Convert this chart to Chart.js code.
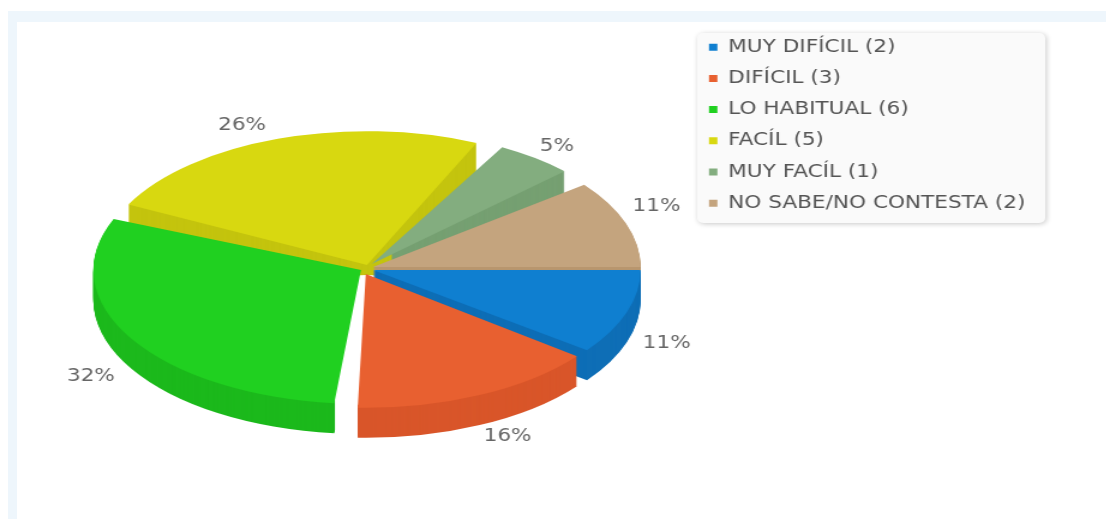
<!DOCTYPE html>
<html>
<head>
<meta charset="utf-8">
<script src="https://cdn.jsdelivr.net/npm/chart.js@4"></script>
<style>
    html, body { margin: 0; width: 1106px; height: 519px; overflow: hidden; background: #fff; }
    #frame { position: absolute; left: 8px; top: 11px; right: 0; bottom: 0; background: #eef6fc; }
    #panel { position: absolute; left: 17px; top: 22px; right: 0; bottom: 0; background: #fff; }
    /* the original picture is stretched sideways, text included */
    #pie { position: absolute; left: 0; top: 0; transform-origin: 0 0; transform: scaleX(1.2); filter: blur(0.6px); }
</style>
</head>
<body>
<div id="frame"></div>
<div id="panel"></div>
<canvas id="pie" width="922" height="519"></canvas>
<script>
const categories = ['MUY DIFÍCIL', 'DIFÍCIL', 'LO HABITUAL', 'FACÍL', 'MUY FACÍL', 'NO SABE/NO CONTESTA'];
const counts = [2, 3, 6, 5, 1, 2];

const topColors = ['#0f7fd0', '#e86030', '#20d020', '#d8d810', '#83ad7f', '#c4a47e'];
const sideColors = ['#0e6eb6', '#d9562a', '#1cb91c', '#c4c40e', '#76a072', '#b8966e'];

// look of the fake 3D pie
const TILT = 0.6;
const DEPTH = 30;
const RADIUS = 223;
// the library only offsets along the bisector, the original slices drift a bit and have gaps
const sliceDrift = [[2, 3], [-4, 7], [-8, 3], [-3, -2], [1, -3], [2, 0]];
const sliceTrim = [[0, -1], [0, -3], [1, -6], [-1.5, -9], [-4, -6], [0, 0]];
// how much of each slice's wall is hollowed out from the middle (share of the radius)
const wallHollow = [0, 0.97, 0.97, 0.15, 0.15, 0];
const labelTurn = [-1, -1, 1.5, -5, 0, -4];
const labelRadius = [1.16, 1.16, 1.2, 1.16, 1.14, 1.16];

const total = counts.reduce((a, b) => a + b, 0);
const rad = deg => deg * Math.PI / 180;

function centerY(chart) {
    return (chart.chartArea.top + chart.chartArea.bottom) / 2;
}

function tilt(ctx, cy, drop) {
    ctx.translate(0, cy + drop);
    ctx.scale(1, TILT);
    ctx.translate(0, -cy);
}

const pie3d = {
    id: 'pie3d',
    afterDatasetUpdate(chart, args) {
        args.meta.data.forEach((arc, i) => {
            arc.startAngle += rad(sliceTrim[i][0]);
            arc.endAngle += rad(sliceTrim[i][1]);
            arc.circumference = arc.endAngle - arc.startAngle;
            arc.x += sliceDrift[i][0];
            arc.y += sliceDrift[i][1] / TILT;
        });
    },
    beforeDraw(chart) {
        // legend card
        const ctx = chart.ctx;
        ctx.save();
        ctx.shadowColor = 'rgba(0,0,0,0.22)';
        ctx.shadowBlur = 5;
        ctx.shadowOffsetX = 1;
        ctx.shadowOffsetY = 1;
        ctx.fillStyle = '#fafafa';
        ctx.beginPath();
        ctx.roundRect(581, 33, 290, 190, 5);
        ctx.fill();
        ctx.restore();
    },
    beforeDatasetDraw(chart, args) {
        const ctx = chart.ctx;
        const cy = centerY(chart);
        const arcs = args.meta.data.map((arc, i) => ({ arc, i }));
        // back slices first so the front walls cover them
        arcs.sort((a, b) => Math.sin((a.arc.startAngle + a.arc.endAngle) / 2) - Math.sin((b.arc.startAngle + b.arc.endAngle) / 2));
        arcs.forEach(({ arc, i }) => {
            const wall = Object.create(arc);
            wall.options = Object.assign({}, arc.options, { backgroundColor: sideColors[i], borderWidth: 0 });
            wall.innerRadius = arc.outerRadius * wallHollow[i];
            for (let d = DEPTH; d > 0; d--) {
                ctx.save();
                tilt(ctx, cy, d);
                arc.draw.call(wall, ctx);
                ctx.restore();
            }
        });
        ctx.save();
        tilt(ctx, cy, 0);
    },
    afterDatasetDraw(chart, args) {
        const ctx = chart.ctx;
        ctx.restore();
        const cy = centerY(chart);
        const cx = (chart.chartArea.left + chart.chartArea.right) / 2;
        ctx.save();
        ctx.font = '18px "DejaVu Sans"';
        ctx.fillStyle = '#666';
        ctx.textAlign = 'center';
        ctx.textBaseline = 'middle';
        args.meta.data.forEach((arc, i) => {
            const mid = (arc.startAngle + arc.endAngle) / 2 + rad(labelTurn[i]);
            const x = cx + Math.cos(mid) * RADIUS * labelRadius[i];
            const y = cy + Math.sin(mid) * RADIUS * TILT * labelRadius[i] + (Math.sin(mid) > 0 ? DEPTH : 0);
            ctx.fillText(Math.round(counts[i] / total * 100) + '%', x, y);
        });
        ctx.restore();
    }
};

Chart.defaults.font.family = '"DejaVu Sans"';

new Chart(document.getElementById('pie').getContext('2d'), {
    type: 'pie',
    data: {
        labels: categories.map((name, i) => `${name} (${counts[i]})`),
        datasets: [{
            data: counts,
            backgroundColor: topColors,
            borderWidth: 0,
            radius: RADIUS,
            clip: false
        }]
    },
    options: {
        responsive: false,
        animation: false,
        rotation: 90,
        layout: { padding: { left: 40, right: 57.5, top: 25, bottom: 10 } },
        plugins: {
            tooltip: { enabled: false },
            legend: {
                position: 'right',
                align: 'start',
                labels: {
                    color: '#555',
                    font: { size: 18 },
                    boxWidth: 7,
                    boxHeight: 7,
                    padding: 13.2
                }
            }
        }
    },
    plugins: [pie3d]
});
</script>
</body>
</html>
